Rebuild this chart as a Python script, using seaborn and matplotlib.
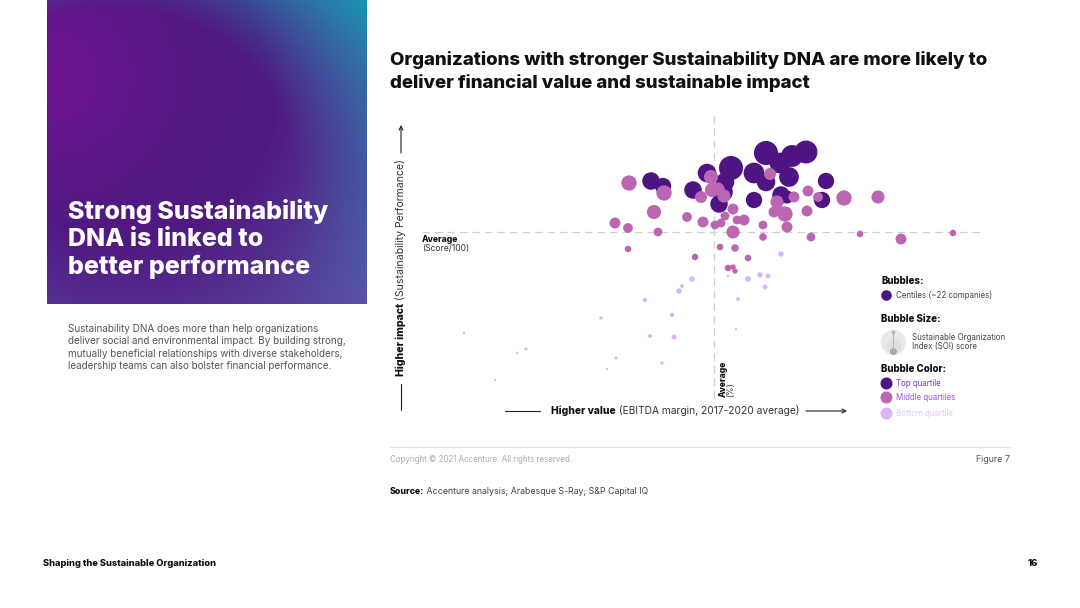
"""Sustainability DNA slide: bubble chart of EBITDA margin vs sustainability score."""
import matplotlib
matplotlib.use("Agg")
import matplotlib.pyplot as plt
import numpy as np
import pandas as pd
import seaborn as sns

# values (margin in %, score/100, SOI score in relative units)
top_margin = [19.2, 23.2, 21.8, 20.6, 21.5, 18.0, 19.2, 25.2, 15.7, 13.3, 15.1, 14.9, 11.9, 14.5, 18.0, 20.7, 21.3, 24.8, 7.7, 8.9]
top_score = [67.9, 68.0, 67.6, 66.9, 65.5, 65.9, 65.0, 65.1, 66.4, 65.9, 65.0, 64.0, 64.2, 62.8, 63.2, 63.7, 63.5, 63.2, 65.1, 64.6]
top_soi = [121, 110, 100, 90, 81, 90, 72, 56, 121, 72, 72, 81, 64, 64, 56, 64, 36, 56, 64, 56]

mid_margin = [5.5, 9.0, 8.0, 4.1, 5.4, 8.4, 5.4, 11.3, 12.1, 19.6, 13.7, 13.8, 14.4, 15.0, 12.7, 15.9, 15.1, 12.9, 14.7, 14.1, 16.3, 17.0, 15.9, 18.9, 18.9, 21.3, 21.1, 20.0, 20.8, 20.3, 22.0, 23.4, 23.3, 24.4, 27.0, 30.4, 23.7, 28.6, 32.7, 37.9, 14.6, 16.1, 17.4, 15.4, 15.9, 16.1]
mid_score = [64.9, 63.9, 62.0, 60.9, 60.4, 60.0, 58.3, 61.5, 57.5, 65.8, 65.5, 64.2, 64.3, 63.6, 63.5, 62.3, 61.6, 61.0, 60.9, 60.7, 61.2, 61.2, 60.0, 60.7, 59.5, 60.5, 61.8, 62.0, 62.1, 63.0, 63.5, 64.1, 62.1, 63.5, 63.4, 63.5, 59.5, 59.8, 59.3, 59.9, 58.5, 58.4, 57.4, 56.4, 56.5, 56.1]
mid_soi = [49, 49, 42, 25, 20, 16, 9, 20, 9, 30, 42, 42, 36, 36, 30, 25, 16, 25, 16, 16, 16, 25, 36, 16, 12, 25, 49, 25, 16, 36, 25, 25, 25, 20, 49, 36, 16, 9, 25, 9, 9, 12, 9, 9, 6, 6]

low_margin = [20.7, 15.4, 17.4, 18.6, 19.4, 19.1, 16.4, 16.2, 11.8, 10.8, 10.5, 7.1, 2.7, 9.8, 7.6, 10.0, 4.2, 8.8, 3.3, -4.8, -5.7, -11.0, -7.9]
low_score = [57.8, 55.6, 55.3, 55.7, 55.6, 54.5, 53.3, 50.3, 55.3, 54.6, 54.1, 53.2, 51.4, 51.7, 49.6, 49.5, 47.4, 46.9, 46.3, 48.3, 47.9, 49.9, 45.2]
low_soi = [6, 1.5, 7, 6, 5, 5, 3, 1, 6, 3, 6, 4, 2.5, 4, 3, 5, 1.7, 2.2, 1, 2, 1, 1.4, 1]

avg_margin = 14.0
avg_score = 60.0

quartile_names = ["Top quartile", "Middle quartiles", "Bottom quartile"]
quartile_colors = ["#4e1484", "#bb66b3", "#dcb3ff"]

W, H = 1080, 608
BOLD = "#111111"
GREY = "#555555"

sns.set_theme(style="white")
plt.rcParams["font.family"] = ["Inter", "DejaVu Sans"]

frames = []
for name, m, s, soi in zip(quartile_names,
                           [top_margin, mid_margin, low_margin],
                           [top_score, mid_score, low_score],
                           [top_soi, mid_soi, low_soi]):
    frames.append(pd.DataFrame({"margin": m, "score": s, "soi": soi, "quartile": name}))
df = pd.concat(frames, ignore_index=True)

fig = plt.figure(figsize=(W / 100, H / 100), dpi=100, facecolor="white")

# page layer in pixel coordinates, for the panel, notes and legend
page = fig.add_axes([0, 0, 1, 1])
page.axis("off")

# gradient panel behind the heading
u, v = np.meshgrid(np.linspace(0, 1, 320), np.linspace(0, 1, 304))
base = np.array([0.31, 0.10, 0.50])
glow = np.array([0.42, 0.08, 0.57])
teal = np.array([0.10, 0.58, 0.70])
blue = np.array([0.36, 0.30, 0.64])
panel = base + (glow - base)[None, None, :] * np.exp(-(u**2 + (v - 0.25) ** 2) / 0.12)[..., None]
w_blue = np.clip((np.hypot(u - 0.25, (v - 0.3) * 0.9) - 0.45) / 0.5, 0, 1)[..., None]
panel = panel * (1 - w_blue) + blue * w_blue
w_teal = np.clip((np.hypot(u - 0.2, v - 0.6) - 0.58) / 0.42, 0, 1)[..., None] * (1 - v[..., None]) ** 0.6
panel = panel * (1 - w_teal) + teal * w_teal
page.imshow(np.clip(panel, 0, 1), extent=(47, 367, 304, 0), aspect="auto", interpolation="bilinear")
page.set_xlim(0, W)
page.set_ylim(H, 0)


def runs(x, y, parts, size):
    """Place (text, weight, color) runs one after the other on a baseline."""
    renderer = fig.canvas.get_renderer()
    for text, weight, color in parts:
        t = page.text(x, y, text, fontsize=size, fontweight=weight, color=color, va="center", ha="left")
        x += t.get_window_extent(renderer).width


def vruns(x, y, parts, size):
    """Same as runs, going up the page."""
    renderer = fig.canvas.get_renderer()
    for text, weight, color in parts:
        t = page.text(x, y, text, fontsize=size, fontweight=weight, color=color,
                      rotation=90, ha="center", va="bottom")
        y -= t.get_window_extent(renderer).height


for i, line in enumerate(["Strong Sustainability", "DNA is linked to", "better performance"]):
    page.text(68, 211 + i * 28, line, fontsize=18, fontweight=800, color="white", va="center")

body = ["Sustainability DNA does more than help organizations",
        "deliver social and environmental impact. By building strong,",
        "mutually beneficial relationships with diverse stakeholders,",
        "leadership teams can also bolster financial performance."]
for i, line in enumerate(body):
    page.text(68, 329 + i * 12.3, line, fontsize=7.15, color=GREY, va="center")

page.text(390, 60, "Organizations with stronger Sustainability DNA are more likely to",
          fontsize=13.45, fontweight=800, color=BOLD, va="center")
page.text(390, 83, "deliver financial value and sustainable impact",
          fontsize=13.45, fontweight=800, color=BOLD, va="center")

# the bubbles
ax = fig.add_axes([400 / W, 1 - 420 / H, 600 / W, 310 / H])
ax.patch.set_visible(False)
ax.hlines(avg_score, -15.2, 40.8, color="#d0d0d0", lw=0.9, ls=(0, (6, 4)), zorder=0)
ax.vlines(avg_margin, 43.4, 72.0, color="#d0d0d0", lw=0.9, ls=(0, (6, 4)), zorder=0)
sns.scatterplot(data=df, x="margin", y="score", hue="quartile", size="soi",
                hue_order=quartile_names, palette=quartile_colors,
                sizes=(0, 300), size_norm=(0, 121), linewidth=0, legend=False, ax=ax)
ax.set_xlim(-17.4, 42.6)
ax.set_ylim(41.2, 72.2)
ax.axis("off")

page.text(422, 240, "Average", fontsize=6.2, fontweight=800, color=BOLD, va="center")
page.text(422, 249, "(Score/100)", fontsize=6.2, color="#333333", va="center")
page.text(723, 397, "Average", fontsize=6.2, fontweight=800, color=BOLD, rotation=90, ha="center", va="bottom")
page.text(731, 397, "(%)", fontsize=6.2, color="#333333", rotation=90, ha="center", va="bottom")

# axis captions with their arrows
arrow = dict(arrowstyle="->", color="#222222", lw=0.8, shrinkA=0, shrinkB=0, mutation_scale=7)
runs(551, 411, [("Higher value", 800, BOLD), (" (EBITDA margin, 2017-2020 average)", "normal", "#333333")], 7.35)
page.plot([505, 540], [411, 411], color="#222222", lw=0.8)
page.annotate("", xy=(847, 411), xytext=(806, 411), arrowprops=arrow)
vruns(401, 376, [("Higher impact", 800, BOLD), (" (Sustainability Performance)", "normal", "#333333")], 7.58)
page.plot([401, 401], [384, 410], color="#222222", lw=0.8)
page.annotate("", xy=(401, 125), xytext=(401, 153), arrowprops=arrow)

# hand-built legend
page.text(881, 281, "Bubbles:", fontsize=7, fontweight=800, color=BOLD, va="center")
page.scatter([886], [295], s=58, color=quartile_colors[0], linewidth=0)
page.text(896, 295, "Centiles (~22 companies)", fontsize=5.7, color="#444444", va="center")

page.text(881, 319, "Bubble Size:", fontsize=7, fontweight=800, color=BOLD, va="center")
page.scatter([893], [342], s=334, color="#e9e9e9", linewidth=0)
page.scatter([893], [346], s=120, color="#dfdfdf", linewidth=0)
page.plot([893, 893], [332, 350], color="#b5b5b5", lw=0.7)
page.scatter([893], [351], s=25, color="#a8a8a8", linewidth=0)
page.scatter([893], [332], s=7, color="#b5b5b5", linewidth=0)
page.text(912, 337, "Sustainable Organization", fontsize=5.7, color="#444444", va="center")
page.text(912, 346, "Index (SOI) score", fontsize=5.7, color="#444444", va="center")

page.text(881, 369, "Bubble Color:", fontsize=7, fontweight=800, color=BOLD, va="center")
text_colors = ["#7b35c4", "#a24fe0", "#e2c6fb"]
for y, c, tc, name in zip([383, 397, 413], quartile_colors, text_colors, quartile_names):
    page.scatter([886], [y], s=75, color=c, linewidth=0)
    page.text(896, y, name, fontsize=5.7, color=tc, va="center")

# footer
page.plot([390, 1010], [447, 447], color="#e2e2e2", lw=0.8)
page.text(390, 459, "Copyright © 2021 Accenture. All rights reserved.", fontsize=5.7, color="#aaaaaa", va="center")
page.text(1010, 459, "Figure 7", fontsize=6.4, color="#555555", va="center", ha="right")
runs(390, 492, [("Source:", 800, BOLD), (" Accenture analysis; Arabesque S-Ray; S&P Capital IQ", "normal", "#444444")], 6.35)
page.text(43, 563, "Shaping the Sustainable Organization", fontsize=6.7, fontweight=800, color=BOLD, va="center")
page.text(1038, 563, "16", fontsize=6.7, fontweight=800, color=BOLD, va="center", ha="right")

fig.savefig("out.png", dpi=100)
